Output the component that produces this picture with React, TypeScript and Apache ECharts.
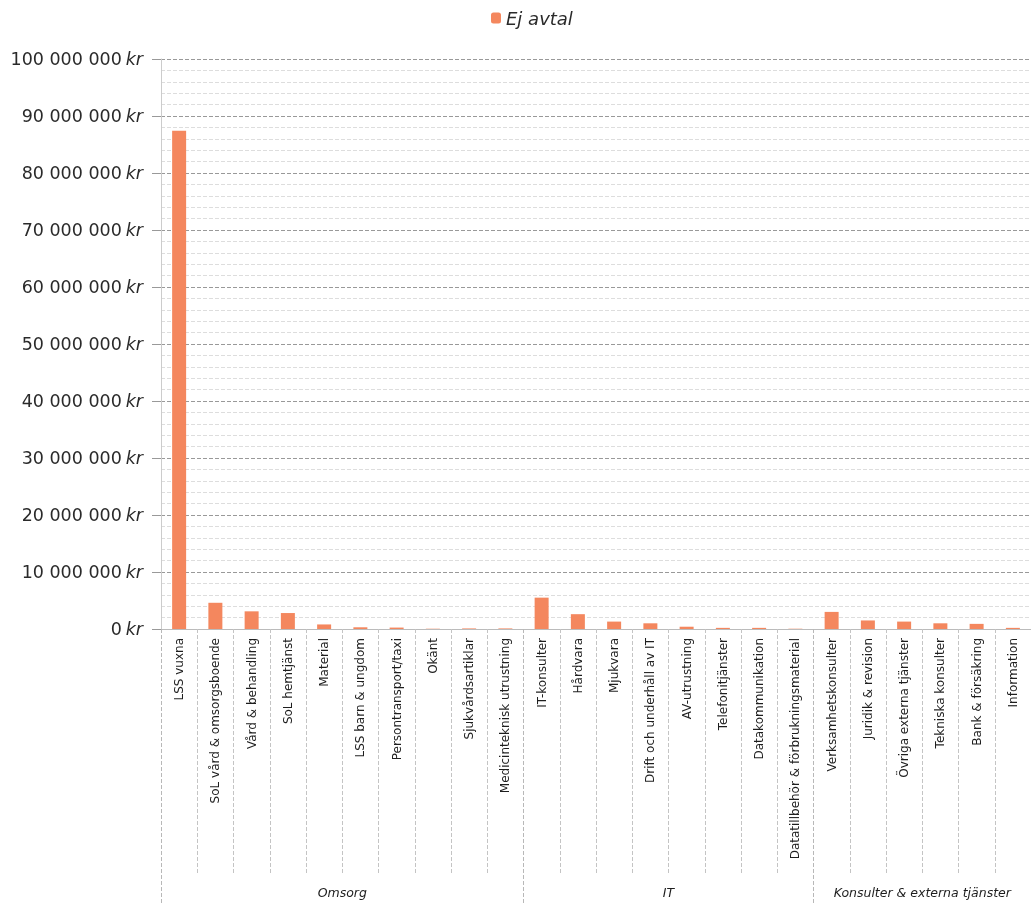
import React, { useEffect, useRef } from "react";
import * as echarts from "echarts";

const categories = [
  "LSS vuxna",
  "SoL vård & omsorgsboende",
  "Vård & behandling",
  "SoL hemtjänst",
  "Material",
  "LSS barn & ungdom",
  "Persontransport/taxi",
  "Okänt",
  "Sjukvårdsartiklar",
  "Medicinteknisk utrustning",
  "IT-konsulter",
  "Hårdvara",
  "Mjukvara",
  "Drift och underhåll av IT",
  "AV-utrustning",
  "Telefonitjänster",
  "Datakommunikation",
  "Datatillbehör & förbrukningsmaterial",
  "Verksamhetskonsulter",
  "Juridik & revision",
  "Övriga externa tjänster",
  "Tekniska konsulter",
  "Bank & försäkring",
  "Information",
];

const ejAvtal = [
  87400000, 4600000, 3100000, 2800000, 800000, 300000, 250000, 50000, 100000, 100000,
  5500000, 2600000, 1300000, 1000000, 400000, 200000, 200000, 50000,
  3000000, 1500000, 1300000, 1000000, 900000, 200000,
];

const groups = ["Omsorg", "IT", "Konsulter & externa tjänster"];
const groupBoundaries = [0, 10, 18, 24];
const groupCenters = [5, 14, 21];

const fontFamily = "'DejaVu Sans', sans-serif";

function fmtKr(v: number) {
  const s = Math.round(v).toString().replace(/\B(?=(\d{3})+(?!\d))/g, " ");
  return `{n|${s}} {k|kr}`;
}

export default function App() {
  const ref = useRef<HTMLDivElement>(null);
  useEffect(() => {
    if (!ref.current) return;
    const chart = echarts.init(ref.current, undefined, { renderer: "svg" });
    chart.setOption({
      animation: false,
      textStyle: { fontFamily },
      legend: {
        data: ["Ej avtal"],
        left: 486,
        top: 4,
        itemWidth: 10,
        itemHeight: 11,
        itemGap: 5,
        textStyle: { fontSize: 18, fontStyle: "italic", color: "#2a2a2a", fontFamily },
      },
      grid: { left: 161, top: 59, bottom: 274, right: -8 },
      xAxis: [
        {
          type: "category",
          data: categories,
          boundaryGap: true,
          axisLine: { show: true, lineStyle: { color: "#bbb" } },
          axisTick: {
            show: true,
            interval: 0,
            length: 246,
            lineStyle: { color: "#c4c4c4", type: "dashed" },
          },
          axisLabel: {
            interval: 0,
            rotate: 90,
            margin: 9,
            fontSize: 12,
            color: "#1e1e1e",
            fontFamily,
          },
        },
        {
          type: "value",
          position: "bottom",
          min: 0,
          max: 24,
          axisLine: { show: false },
          splitLine: { show: false },
          axisTick: {
            show: true,
            length: 274,
            customValues: groupBoundaries,
            lineStyle: { color: "#b8b8b8", type: "dashed" },
          },
          axisLabel: {
            show: true,
            customValues: groupCenters,
            margin: 257,
            fontSize: 12.5,
            fontStyle: "italic",
            color: "#1e1e1e",
            fontFamily,
            formatter: (v: number) => groups[groupCenters.indexOf(v)] ?? "",
          },
        },
      ],
      yAxis: {
        type: "value",
        min: 0,
        max: 100000000,
        interval: 10000000,
        axisLine: { show: true, lineStyle: { color: "#ccc" } },
        axisTick: { show: true, length: 9, lineStyle: { color: "#999" } },
        axisLabel: {
          margin: 18,
          color: "#2a2a2a",
          formatter: fmtKr,
          rich: {
            n: { fontSize: 17.5, color: "#2a2a2a", fontFamily },
            k: { fontSize: 17.5, color: "#2a2a2a", fontStyle: "italic", fontFamily },
          },
        },
        splitLine: { show: true, lineStyle: { color: "#999", type: "dashed" } },
        minorTick: { show: false, splitNumber: 5 },
        minorSplitLine: { show: true, lineStyle: { color: "#ddd", type: "dashed" } },
      },
      series: [
        {
          name: "Ej avtal",
          type: "bar",
          data: ejAvtal,
          barWidth: 14,
          itemStyle: { color: "#F4875E" },
        },
      ],
    });
    return () => chart.dispose();
  }, []);
  return (
    <div
      ref={ref}
      style={{ position: "fixed", left: 0, top: 0, width: 1031, height: 903 }}
    />
  );
}
